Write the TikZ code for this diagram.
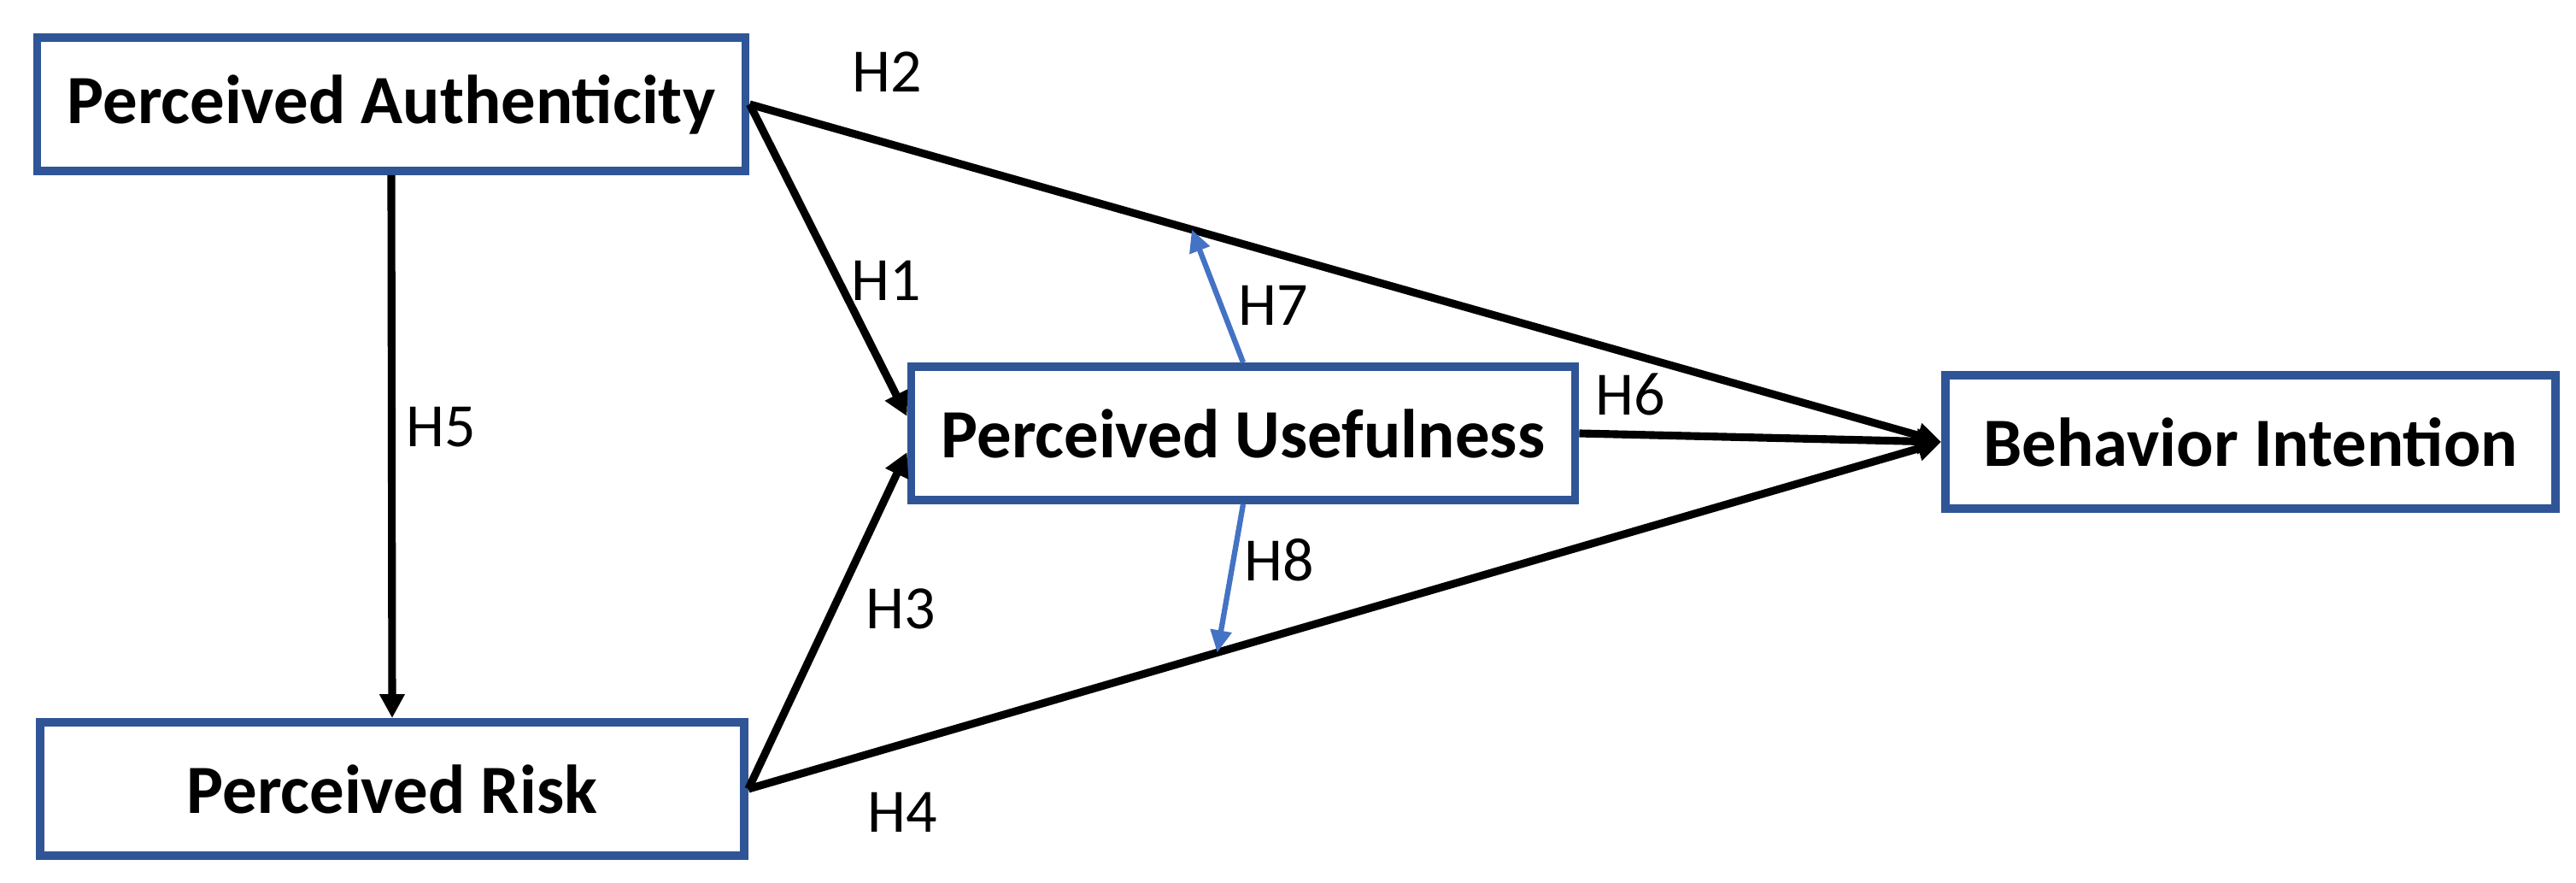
\documentclass[tikz,border=0pt]{standalone}
\usepackage{fontspec}
\setmainfont{Carlito}
\usetikzlibrary{arrows.meta}
\definecolor{boxblue}{HTML}{2F5597}
\definecolor{modblue}{HTML}{4472C4}
\tikzset{
    construct/.style={draw=boxblue, line width=2.8pt, minimum height=1.56cm,
        inner sep=0pt, font=\fontsize{23}{27}\selectfont\bfseries},
    effect/.style={-{Triangle[length=0.28cm, width=0.28cm]}, line width=2.6pt},
    moderation/.style={-{Triangle[length=0.26cm, width=0.24cm]}, draw=modblue,
        line width=1.8pt},
    hlabel/.style={font=\fontsize{20.5}{24}\selectfont, inner sep=0pt}
}
\begin{document}
\begin{tikzpicture}
    \useasboundingbox (0, 0) rectangle (30.15, 10.33);
    \node [construct, minimum width=8.29cm] (pa) at (4.58, 9.11) {Perceived Authenticity};
    \node [construct, minimum width=8.24cm] (pr) at (4.59, 1.10) {Perceived Risk};
    \node [construct, minimum width=7.77cm] (pu) at (14.55, 5.26) {Perceived Usefulness};
    \node [construct, minimum width=7.14cm] (bi) at (26.34, 5.16) {Behavior Intention};
    \draw [effect] (pa.east) -- (bi.west);
    \draw [effect] (pa.east) -- ([yshift=0.2cm]pu.west);
    \draw [effect] (pr.east) -- ([yshift=-0.22cm]pu.west);
    \draw [effect] (pr.east) -- (bi.west);
    \draw [effect] (pu.east) -- (bi.west);
    \draw [effect] (pa.south) -- (pr.north);
    \path (pa.east) -- (bi.west) coordinate[pos=0.371] (m7);
    \path (pr.east) -- (bi.west) coordinate[pos=0.393] (m8);
    \draw [moderation] (pu.north) -- (m7);
    \draw [moderation] (pu.south) -- (m8);
    \node [hlabel] (h1) at (10.37, 7.05) {H1};
    \node [hlabel] (h2) at (10.38, 9.49) {H2};
    \node [hlabel] (h3) at (10.54, 3.21) {H3};
    \node [hlabel] (h4) at (10.56, 0.83) {H4};
    \node [hlabel] (h5) at (5.16, 5.33) {H5};
    \node [hlabel] (h6) at (19.08, 5.72) {H6};
    \node [hlabel] (h7) at (14.90, 6.76) {H7};
    \node [hlabel] (h8) at (14.97, 3.78) {H8};
\end{tikzpicture}
\end{document}
